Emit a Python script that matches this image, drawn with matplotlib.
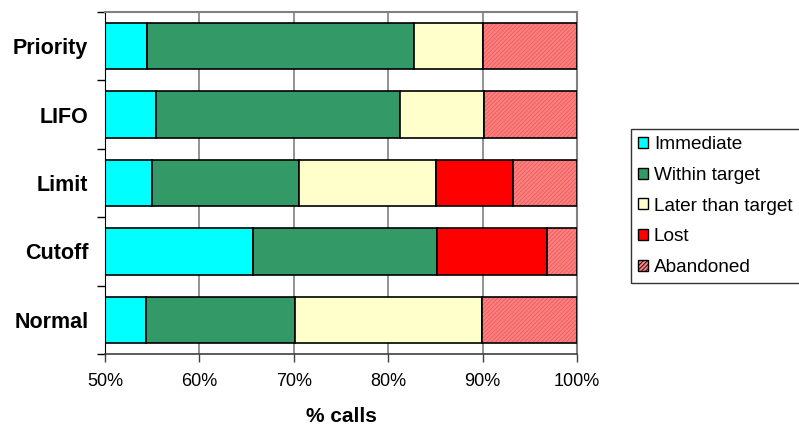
import numpy as np
import matplotlib.pyplot as plt

plt.rcParams['font.family'] = ['Liberation Sans', 'DejaVu Sans']
plt.rcParams['hatch.linewidth'] = 0.6

# queue disciplines, top to bottom
disciplines = ['Priority', 'LIFO', 'Limit', 'Cutoff', 'Normal']

# share of calls (%) per outcome
immediate = [54.5, 55.4, 55.0, 65.7, 54.3]
within_target = [28.2, 25.8, 15.5, 19.5, 15.8]
later_than_target = [7.3, 8.9, 14.6, 0.0, 19.8]
lost = [0.0, 0.0, 8.1, 11.6, 0.0]
abandoned = [10.0, 9.9, 6.8, 3.2, 10.1]

outcomes = ['Immediate', 'Within target', 'Later than target', 'Lost', 'Abandoned']
series = [immediate, within_target, later_than_target, lost, abandoned]
colors = ['#00FFFF', '#339966', '#FFFFCC', '#FF0000', '#FF8080']

xticks = [50, 60, 70, 80, 90, 100]

fig = plt.figure(figsize=(7.99, 4.30), dpi=100)
ax = fig.add_axes([105 / 799, 1 - 354 / 430, 472 / 799, 342 / 430])

y = np.arange(len(disciplines))
left = np.zeros(len(disciplines))
handles = []
for name, vals, col in zip(outcomes, series, colors):
    vals = np.array(vals)
    if name == 'Abandoned':
        # hatched fill first, then a plain black outline over it
        ax.barh(y, vals, left=left, height=0.68, color=col, hatch='////////',
                edgecolor='#E65C5C', linewidth=0, zorder=2)
        ax.barh(y, vals, left=left, height=0.68, fill=False,
                edgecolor='black', linewidth=1.2, zorder=3)
        handles.append(plt.Rectangle((0, 0), 1, 1, facecolor=col,
                                     hatch='////////', edgecolor='black',
                                     linewidth=1))
    else:
        ax.barh(y, vals, left=left, height=0.68, color=col,
                edgecolor='black', linewidth=1.2, zorder=2)
        handles.append(plt.Rectangle((0, 0), 1, 1, facecolor=col,
                                     edgecolor='black', linewidth=1))
    left += vals

ax.set_xlim(50, 100)
ax.set_ylim(len(disciplines) - 0.5, -0.5)

ax.set_xticks(xticks)
ax.set_xticklabels(['%d%%' % v for v in xticks], fontsize=13)
ax.tick_params(axis='x', direction='out', length=6, width=1, pad=8,
               color='#404040')
ax.xaxis.grid(True, color='#808080', linewidth=1.2, zorder=0)
ax.set_axisbelow(True)

ax.set_yticks(y)
ax.set_yticklabels(disciplines, fontsize=15.5, fontweight='bold')
ax.tick_params(axis='y', which='major', length=0, pad=12)
ax.set_yticks(np.arange(-0.5, len(disciplines)), minor=True)
ax.tick_params(axis='y', which='minor', direction='out', length=6, width=1)

for side in ['top', 'right']:
    ax.spines[side].set_color('#808080')
    ax.spines[side].set_linewidth(1.5)
ax.spines['left'].set_color('black')
ax.spines['bottom'].set_color('#404040')
ax.spines['bottom'].set_linewidth(1.2)

ax.set_xlabel('% calls', fontsize=15, fontweight='bold', labelpad=12)

leg = fig.legend(handles, outcomes, loc='upper left',
                 bbox_to_anchor=(631 / 799, 1 - 129 / 430), borderaxespad=0,
                 fontsize=13.7, frameon=True, fancybox=False,
                 handlelength=0.52, handleheight=0.52, handletextpad=0.3,
                 labelspacing=0.72, borderpad=0.38)
leg.get_frame().set_edgecolor('black')
leg.get_frame().set_linewidth(1)

fig.savefig('out.png', dpi=100)
